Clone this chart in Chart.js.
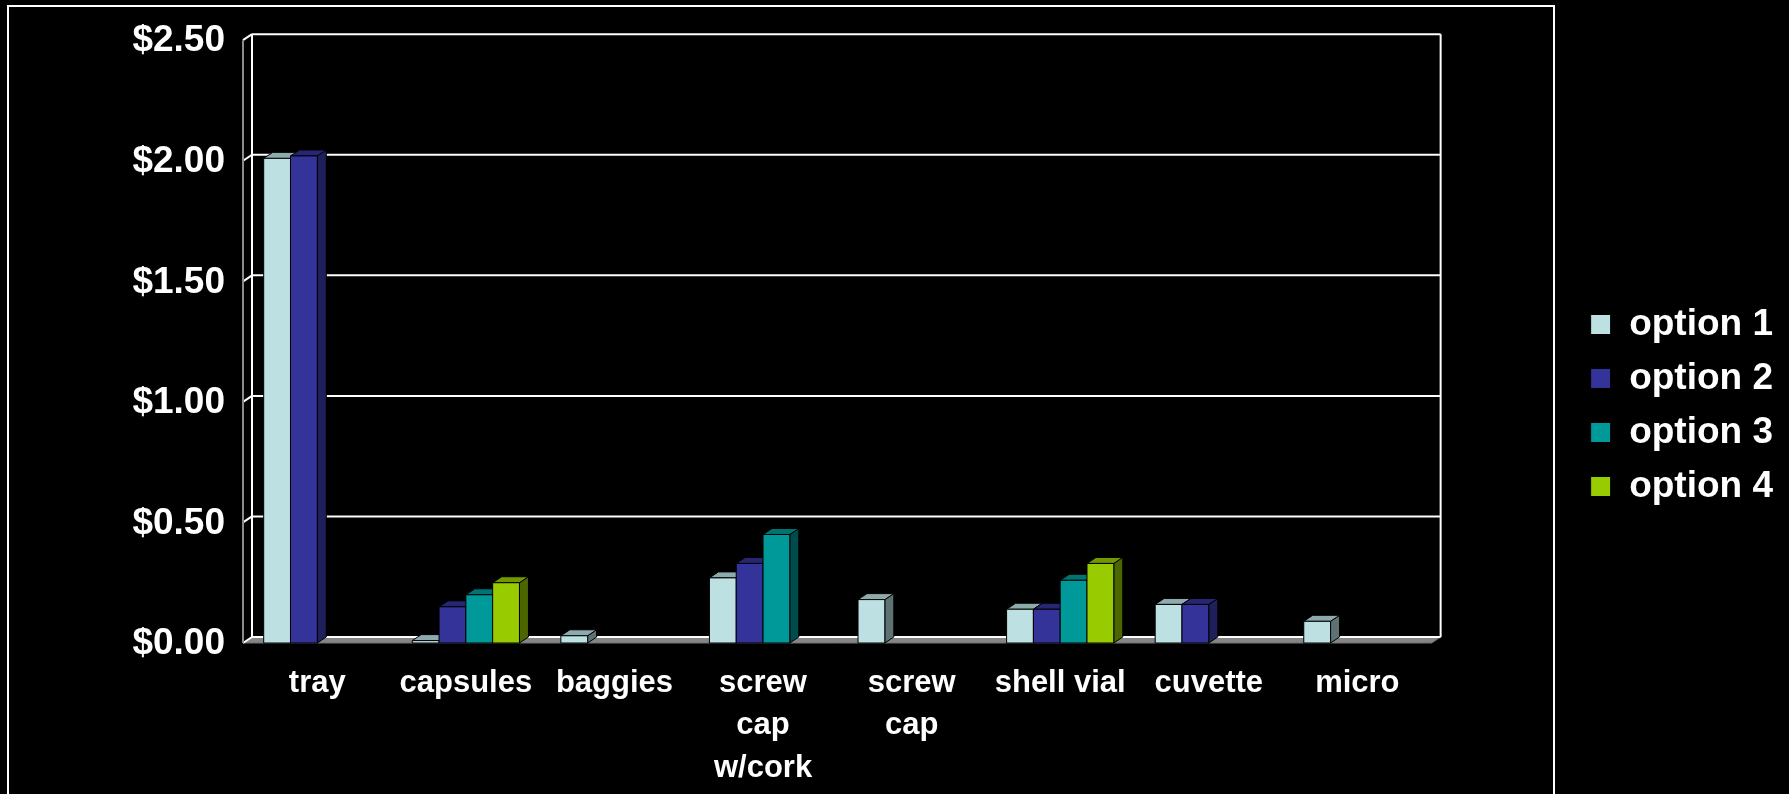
<!DOCTYPE html>
<html>
<head>
<meta charset="utf-8">
<script src="https://cdn.jsdelivr.net/npm/chart.js@4.4.0/dist/chart.umd.min.js"></script>
<style>
  html, body { margin: 0; padding: 0; background: #000; }
  canvas { display: block; }
</style>
</head>
<body>
<canvas id="grafica" width="1789" height="794"></canvas>
<script>
// categorias (eje x)
var categorias = ['tray', 'capsules', 'baggies', ['screw', 'cap', 'w/cork'], ['screw', 'cap'], 'shell vial', 'cuvette', 'micro'];

// valores ($)
var option1 = [2.01, 0.01, 0.03, 0.27, 0.18, 0.14, 0.16, 0.09];
var option2 = [2.02, 0.15, null, 0.33, null, 0.14, 0.16, null];
var option3 = [null, 0.20, null, 0.45, null, 0.26, null, null];
var option4 = [null, 0.25, null, null, null, 0.33, null, null];

// eje y
var yMin = 0, yMax = 2.5, yPaso = 0.5;

// colores: frente, tapa, costado
var caras = [
    { front: '#BDE0E3', top: '#8FAAAD', side: '#5E7173' },
    { front: '#333399', top: '#262673', side: '#1F1F5C' },
    { front: '#009999', top: '#007373', side: '#004C4C' },
    { front: '#99CC00', top: '#739900', side: '#4C6600' }
];

var DX = 9, DY = 6; // profundidad del efecto 3D
var fuente = 'Liberation Sans, Arial, sans-serif';

function linea(ctx, x1, y1, x2, y2) {
    ctx.beginPath();
    ctx.moveTo(x1, y1);
    ctx.lineTo(x2, y2);
    ctx.stroke();
}

function poligono(ctx, pts, relleno) {
    ctx.beginPath();
    ctx.moveTo(pts[0][0], pts[0][1]);
    for (var i = 1; i < pts.length; i++) ctx.lineTo(pts[i][0], pts[i][1]);
    ctx.closePath();
    ctx.fillStyle = relleno;
    ctx.fill();
    ctx.stroke();
}

// fondo, marco, pared de fondo, piso y barras en 3D
var caja3d = {
    id: 'caja3d',
    beforeDraw: function (chart) {
        var ctx = chart.ctx;
        ctx.save();
        ctx.fillStyle = '#000';
        ctx.fillRect(0, 0, chart.width, chart.height);
        ctx.strokeStyle = '#fff';
        ctx.lineWidth = 2;
        ctx.strokeRect(8, 6, 1546, 820);
        ctx.restore();
    },
    beforeDatasetsDraw: function (chart) {
        var ctx = chart.ctx, a = chart.chartArea, y = chart.scales.y;
        ctx.save();
        // piso
        ctx.lineWidth = 1;
        ctx.strokeStyle = '#707070';
        poligono(ctx, [[a.left, a.bottom], [a.right, a.bottom], [a.right + DX, a.bottom - DY], [a.left + DX, a.bottom - DY]], '#858585');
        // lineas de division en la pared de fondo
        ctx.lineWidth = 2;
        ctx.strokeStyle = '#fff';
        y.ticks.forEach(function (t) {
            var py = y.getPixelForValue(t.value);
            linea(ctx, a.left + DX, py - DY, a.right + DX, py - DY);
            linea(ctx, a.left, py, a.left + DX, py - DY);
        });
        linea(ctx, a.left + DX, a.top - DY, a.left + DX, a.bottom - DY);
        linea(ctx, a.right + DX, a.top - DY, a.right + DX, a.bottom - DY);
        // eje frontal
        ctx.strokeStyle = '#8C8C8C';
        linea(ctx, a.left, a.top, a.left, a.bottom);
        ctx.restore();
    },
    afterDatasetsDraw: function (chart) {
        var ctx = chart.ctx;
        var n = chart.data.labels.length;
        ctx.save();
        ctx.lineWidth = 1;
        ctx.strokeStyle = '#000';
        for (var i = 0; i < n; i++) {
            chart.data.datasets.forEach(function (ds, k) {
                if (ds.data[i] == null) return;
                var bar = chart.getDatasetMeta(k).data[i];
                var p = bar.getProps(['x', 'y', 'base', 'width'], true);
                var x0 = p.x - p.width / 2, x1 = p.x + p.width / 2;
                var c = caras[k];
                poligono(ctx, [[x1, p.y], [x1 + DX, p.y - DY], [x1 + DX, p.base - DY], [x1, p.base]], c.side);
                poligono(ctx, [[x0, p.y], [x1, p.y], [x1 + DX, p.y - DY], [x0 + DX, p.y - DY]], c.top);
                poligono(ctx, [[x0, p.y], [x1, p.y], [x1, p.base], [x0, p.base]], c.front);
            });
        }
        ctx.restore();
    }
};

var series = [option1, option2, option3, option4];
var datos = {
    labels: categorias,
    datasets: series.map(function (s, k) {
        return {
            label: 'option ' + (k + 1),
            data: s,
            backgroundColor: caras[k].front,
            borderColor: '#000',
            borderWidth: 1,
            categoryPercentage: 0.7214,
            barPercentage: 1.0
        };
    })
};

var opciones = {
    responsive: false,
    animation: false,
    events: [],
    layout: { padding: { left: 0, right: 6, top: 27, bottom: 10 } },
    plugins: {
        tooltip: { enabled: false },
        // titulo vacio: solo empuja el area de la grafica hacia abajo
        title: {
            display: true,
            text: ' ',
            font: { size: 1, lineHeight: 1 },
            padding: { top: 0, bottom: 8 }
        },
        legend: {
            position: 'right',
            labels: {
                color: '#fff',
                boxWidth: 20,
                boxHeight: 20,
                padding: 17,
                font: { family: fuente, size: 37, weight: 'bold' }
            }
        }
    },
    scales: {
        x: {
            grid: { display: false, drawTicks: false },
            border: { display: false },
            ticks: {
                color: '#fff',
                padding: 19,
                autoSkip: false,
                maxRotation: 0,
                minRotation: 0,
                font: { family: fuente, size: 31, weight: 'bold', lineHeight: 1.37 }
            },
            afterFit: function (s) { s.height = 141; }
        },
        y: {
            min: yMin,
            max: yMax,
            grid: { display: false, drawTicks: false },
            border: { display: false },
            ticks: {
                stepSize: yPaso,
                color: '#fff',
                padding: 18,
                labelOffset: 1,
                font: { family: fuente, size: 37, weight: 'bold' },
                callback: function (v) { return '$' + Number(v).toFixed(2); }
            },
            afterFit: function (s) { s.width = 243; }
        },
        // espacio vacio entre la grafica y la leyenda
        hueco: {
            type: 'linear',
            position: 'right',
            grid: { display: false, drawTicks: false },
            border: { display: false },
            ticks: { display: false },
            afterFit: function (s) { s.width = 142; }
        }
    }
};

var ctx = document.getElementById('grafica').getContext('2d');
var grafica = new Chart(ctx, {
    type: 'bar',
    data: datos,
    options: opciones,
    plugins: [caja3d]
});
</script>
</body>
</html>
